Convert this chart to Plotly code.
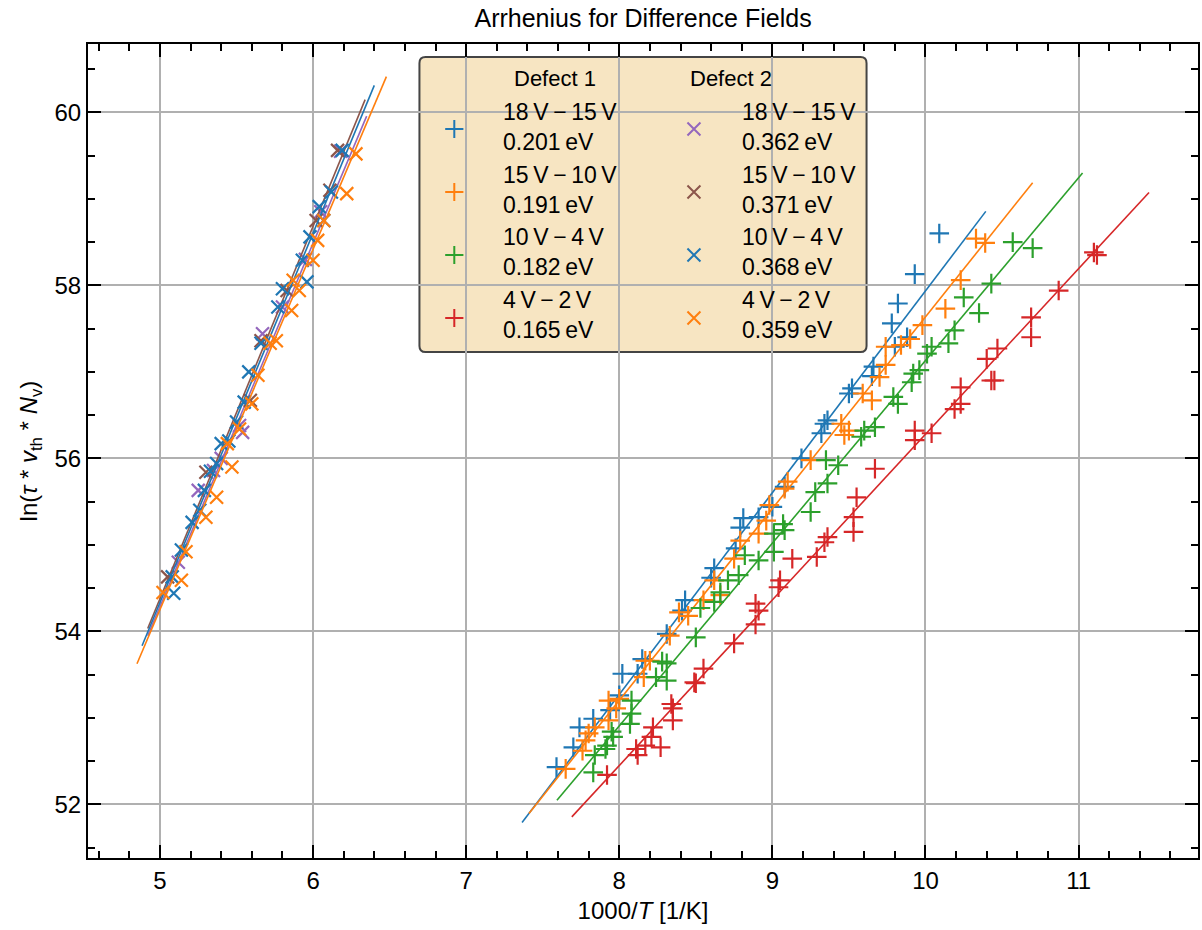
import numpy as np
import plotly.graph_objects as go

# ---------------- data ----------------
# Defect 1 (plus markers)
d1_18_15_x = [10.09, 9.93, 9.82, 9.78, 9.88, 9.80, 9.66, 9.65, 9.50, 9.52, 9.36, 9.34, 9.32, 9.19, 9.08, 9.00, 8.91,
              8.81, 8.79, 8.76, 8.62, 8.60, 8.43, 8.41, 8.31, 8.15, 8.02, 8.12, 8.00, 7.94, 7.83, 7.74, 7.70, 7.59]
d1_18_15_y = [58.60, 58.13, 57.79, 57.56, 57.40, 57.29, 57.06, 56.95, 56.75, 56.81, 56.44, 56.40, 56.29, 56.00, 55.67, 55.44, 55.32,
              55.31, 55.20, 54.96, 54.73, 54.62, 54.36, 54.24, 53.97, 53.68, 53.51, 53.51, 53.26, 53.09, 52.99, 52.89, 52.66, 52.43]

d1_15_10_x = [10.33, 10.39, 10.23, 10.13, 9.98, 9.90, 9.84, 9.74, 9.74, 9.70, 9.59, 9.65, 9.45, 9.50, 9.47, 9.25, 9.10, 9.08,
              8.98, 8.96, 8.91, 8.79, 8.75, 8.66, 8.62, 8.55, 8.45, 8.39, 8.33, 8.17, 8.20, 8.16, 7.93, 8.00, 7.98, 7.93,
              7.84, 7.80, 7.78, 7.76, 7.65]
d1_15_10_y = [58.54, 58.49, 58.06, 57.73, 57.54, 57.38, 57.31, 57.29, 57.08, 56.94, 56.75, 56.67, 56.40, 56.32, 56.27, 55.98, 55.73, 55.65,
              55.46, 55.28, 55.13, 55.05, 54.84, 54.42, 54.59, 54.36, 54.18, 54.22, 53.95, 53.66, 53.66, 53.47, 53.20, 53.22, 53.11, 52.97,
              52.89, 52.82, 52.74, 52.62, 52.41]

d1_10_4_x = [10.57, 10.70, 10.43, 10.25, 10.35, 10.19, 10.15, 10.04, 10.01, 9.96, 9.92, 9.91, 9.79, 9.82, 9.67, 9.60, 9.58,
             9.35, 9.43, 9.28, 9.36, 9.25, 9.07, 9.08, 9.01, 9.01, 8.91, 8.82, 8.78, 8.71, 8.66, 8.62, 8.53, 8.50, 8.28, 8.31,
             8.24, 8.31, 8.08, 8.08, 8.07, 7.95, 7.96, 7.92, 7.91, 7.84, 7.83]
d1_10_4_y = [58.50, 58.43, 58.02, 57.86, 57.68, 57.48, 57.33, 57.29, 57.21, 57.02, 56.98, 56.88, 56.71, 56.63, 56.36, 56.32, 56.25,
             55.98, 55.92, 55.61, 55.71, 55.38, 55.24, 55.17, 55.13, 54.92, 54.82, 54.88, 54.65, 54.59, 54.45, 54.34, 54.27, 53.93, 53.65, 53.63,
             53.47, 53.43, 53.20, 53.05, 52.93, 52.84, 52.78, 52.68, 52.64, 52.57, 52.37]

d1_4_2_x = [11.10, 11.12, 10.87, 10.69, 10.69, 10.47, 10.40, 10.43, 10.45, 10.23, 10.23, 10.19, 10.04, 9.93, 9.93, 9.67, 9.55,
            9.53, 9.53, 9.36, 9.34, 9.29, 9.13, 9.05, 9.04, 8.91, 8.89, 8.89, 8.75, 8.55, 8.49, 8.50, 8.34, 8.35, 8.35, 8.22,
            8.21, 8.17, 8.27, 8.11, 8.12, 7.92]
d1_4_2_y = [58.38, 58.35, 57.94, 57.63, 57.40, 57.27, 57.15, 56.90, 56.90, 56.82, 56.63, 56.57, 56.29, 56.32, 56.21, 55.88, 55.55,
            55.32, 55.15, 55.09, 55.03, 54.86, 54.84, 54.59, 54.51, 54.24, 54.32, 54.08, 53.86, 53.57, 53.41, 53.40, 53.16, 53.11, 52.97, 52.89,
            52.78, 52.68, 52.66, 52.64, 52.57, 52.34]

# Defect 2 (x markers)
d2_18_15_x = [5.67, 5.54, 5.52, 5.25, 5.35, 6.18, 6.05, 5.95, 5.80, 5.40, 5.12]
d2_18_15_y = [57.44, 56.30, 56.38, 55.63, 55.86, 59.55, 58.85, 58.30, 57.75, 56.00, 54.80]

d2_15_10_x = [6.16, 6.11, 6.02, 5.59, 5.30, 5.05, 5.83, 5.66]
d2_15_10_y = [59.56, 59.10, 58.75, 56.67, 55.84, 54.63, 57.94, 57.36]

d2_10_4_x = [6.19, 6.12, 6.04, 6.07, 5.98, 5.93, 5.96, 5.80, 5.77, 5.66, 5.58, 5.55, 5.50, 5.40, 5.37, 5.29, 5.21, 5.14,
             5.08, 5.09, 5.26, 5.33, 5.45]
d2_10_4_y = [59.56, 59.08, 58.91, 58.75, 58.56, 58.29, 58.04, 57.96, 57.75, 57.33, 57.00, 56.65, 56.42, 56.17, 55.94, 55.63, 55.26, 54.94,
             54.63, 54.44, 55.40, 55.85, 56.20]

d2_4_2_x = [6.28, 6.22, 6.07, 6.03, 6.00, 5.87, 5.91, 5.86, 5.76, 5.72, 5.64, 5.60, 5.52, 5.44, 5.47, 5.37, 5.30, 5.17,
            5.14, 5.02]
d2_4_2_y = [59.52, 59.06, 58.75, 58.52, 58.29, 58.06, 57.94, 57.71, 57.36, 57.33, 56.96, 56.63, 56.34, 56.17, 55.90, 55.55, 55.32, 54.92,
            54.59, 54.45]

# fits: activation energies (eV), intercepts, x-range of fit line
k_B = 8.617e-5
d1_Ea = [0.201, 0.191, 0.182, 0.165]
d1_b = [34.61, 35.47, 36.01, 37.13]
d1_xmin = [7.365, 7.41, 7.593, 7.69]
d1_xmax = [10.394, 10.70, 11.026, 11.46]
d2_Ea = [0.362, 0.371, 0.368, 0.359]
d2_b = [33.28, 32.85, 32.98, 33.42]
d2_xmin = [4.92, 4.92, 4.883, 4.85]
d2_xmax = [6.35, 6.34, 6.40, 6.479]

labels = ["18\u2009V\u2009\u2212\u200915\u2009V", "15\u2009V\u2009\u2212\u200910\u2009V",
          "10\u2009V\u2009\u2212\u20094\u2009V", "4\u2009V\u2009\u2212\u20092\u2009V"]

d1_colors = ["#1f77b4", "#ff7f0e", "#2ca02c", "#d62728"]
d2_colors = ["#9467bd", "#8c564b", "#1f77b4", "#ff7f0e"]

d1_data = [(d1_18_15_x, d1_18_15_y), (d1_15_10_x, d1_15_10_y), (d1_10_4_x, d1_10_4_y), (d1_4_2_x, d1_4_2_y)]
d2_data = [(d2_18_15_x, d2_18_15_y), (d2_15_10_x, d2_15_10_y), (d2_10_4_x, d2_10_4_y), (d2_4_2_x, d2_4_2_y)]

FONT = "Liberation Sans, Arial, sans-serif"

fig = go.Figure()

def add_series(data, Ea, b, xmin, xmax, colors, symbol, msize):
    for i in range(4):
        xs, ys = data[i]
        fig.add_trace(go.Scatter(x=xs, y=ys, mode="markers",
                                 marker=dict(symbol=symbol, size=msize, color=colors[i],
                                             line=dict(color=colors[i], width=2.2)),
                                 showlegend=False, hoverinfo="skip"))
        slope = Ea[i] / k_B / 1000.0
        xl = np.array([xmin[i], xmax[i]])
        fig.add_trace(go.Scatter(x=xl, y=slope * xl + b[i], mode="lines",
                                 line=dict(color=colors[i], width=1.6),
                                 showlegend=False, hoverinfo="skip"))

add_series(d1_data, d1_Ea, d1_b, d1_xmin, d1_xmax, d1_colors, "cross-thin", 14)
add_series(d2_data, d2_Ea, d2_b, d2_xmin, d2_xmax, d2_colors, "x-thin", 13)

# ---------------- custom legend ----------------
L_x0, L_x1, L_y0, L_y1 = 0.2986, 0.7014, 0.6216, 0.984
rx, ry = 0.0055, 0.0075
path = (f"M {L_x0+rx},{L_y0} L {L_x1-rx},{L_y0} Q {L_x1},{L_y0} {L_x1},{L_y0+ry} "
        f"L {L_x1},{L_y1-ry} Q {L_x1},{L_y1} {L_x1-rx},{L_y1} "
        f"L {L_x0+rx},{L_y1} Q {L_x0},{L_y1} {L_x0},{L_y1-ry} "
        f"L {L_x0},{L_y0+ry} Q {L_x0},{L_y0} {L_x0+rx},{L_y0} Z")
fig.add_shape(type="path", path=path, xref="paper", yref="paper",
              fillcolor="rgba(245,222,179,0.8)", line=dict(color="#444444", width=2),
              layer="between")

row_text_y = [0.8986, 0.8206, 0.7439, 0.6671]
row_mark_y = [0.8956, 0.8182, 0.7408, 0.6634]
col_mark_x = [0.3300, 0.5459]
col_text_x = [0.3723, 0.5872]

for hx, htxt in [(0.4209, "Defect 1"), (0.5791, "Defect 2")]:
    fig.add_annotation(x=hx, y=0.9582, xref="paper", yref="paper", text=htxt,
                       xanchor="center", yanchor="middle", showarrow=False,
                       font=dict(size=22, color="black", family=FONT))

for c, (Ea, colors, sym) in enumerate([(d1_Ea, d1_colors, "cross-thin"), (d2_Ea, d2_colors, "x-thin")]):
    fig.add_trace(go.Scatter(x=[col_mark_x[c]] * 4, y=row_mark_y, mode="markers",
                             marker=dict(symbol=sym, size=13, color=colors,
                                         line=dict(color=colors, width=2)),
                             xaxis="x2", yaxis="y2", showlegend=False, hoverinfo="skip"))
    for r in range(4):
        fig.add_annotation(x=col_text_x[c], y=row_text_y[r], xref="paper", yref="paper",
                           xanchor="left", yanchor="middle", align="left",
                           text=f"{labels[r]}<br>{Ea[r]:.3f}\u2009eV", showarrow=False,
                           font=dict(size=23, color="black", family=FONT))

axis_common = dict(showline=True, linecolor="black", linewidth=2, mirror="ticks",
                   ticks="inside", ticklen=13, tickwidth=2, tickcolor="black",
                   showgrid=True, gridcolor="#b0b0b0", gridwidth=1.5, zeroline=False,
                   tickfont=dict(size=24, color="black", family=FONT))

fig.update_layout(
    width=1202, height=930,
    margin=dict(l=88, r=2, t=44, b=72),
    paper_bgcolor="white", plot_bgcolor="white",
    title=dict(text="Arrhenius for Difference Fields", x=0.535, xanchor="center", y=0.99, yanchor="top",
               font=dict(size=25, color="black", family=FONT)),
    xaxis=dict(range=[4.53, 11.78], dtick=1, tick0=5,
               minor=dict(ticks="inside", dtick=0.2, ticklen=7, tickwidth=1.5, tickcolor="black", showgrid=False),
               title=dict(text="1000/<i>T</i> [1/K]", font=dict(size=24, color="black", family=FONT), standoff=9),
               **axis_common),
    yaxis=dict(range=[51.38, 60.79], dtick=2, tick0=52,
               minor=dict(ticks="inside", dtick=0.5, ticklen=7, tickwidth=1.5, tickcolor="black", showgrid=False),
               title=dict(text="ln(<i>\u03c4</i> * <i>v</i><sub>th</sub> * <i>N</i><sub>v</sub>)",
                          font=dict(size=24, color="black", family=FONT), standoff=10),
               **axis_common),
    xaxis2=dict(overlaying="x", range=[0, 1], visible=False, domain=[0, 1]),
    yaxis2=dict(overlaying="y", range=[0, 1], visible=False, domain=[0, 1]),
)

fig.write_html("out.html")
